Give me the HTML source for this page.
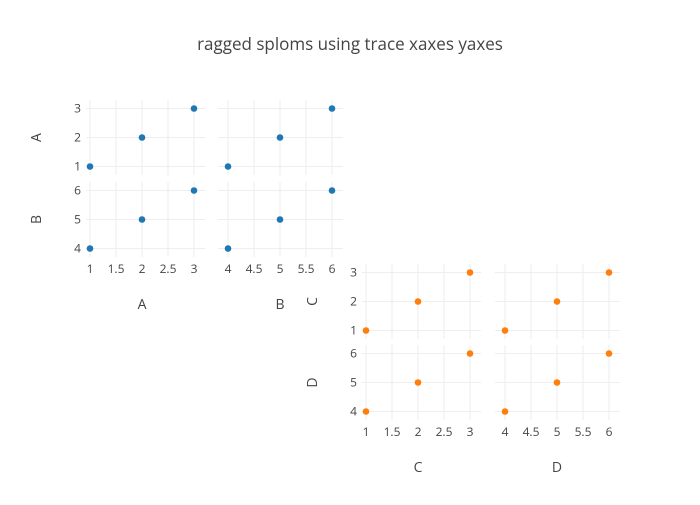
<!DOCTYPE html>
<html><head><meta charset="utf-8"><style>
body{margin:0;background:#fff;}
svg{font-family:"Open Sans","Liberation Sans",sans-serif;}
</style></head><body>
<svg id="c" width="700" height="500">
<text x="350" y="50" text-anchor="middle" font-size="17" fill="#444">ragged sploms using trace xaxes yaxes</text>
</svg>
<script>
const dimA=[1,2,3], dimB=[4,5,6], dimC=[1,2,3], dimD=[4,5,6];
const ticksAC=[1,1.5,2,2.5,3], ticksBD=[4,4.5,5,5.5,6];
const yTicksAC=[1,2,3], yTicksBD=[4,5,6];
const svg=document.getElementById('c'), NS='http://www.w3.org/2000/svg';
function el(t,a,p){const e=document.createElementNS(NS,t);for(const k in a)e.setAttribute(k,a[k]);(p||svg).appendChild(e);return e;}
function xScale(start,lo,hi){const u=104/(hi-lo);return v=>start+(v-lo)*u;}
function yScale(top,bottom,lo,hi){const u=58/(hi-lo);return v=>bottom-8.5-(v-lo)*u;}
function splom(dims,names,xt,yts,lefts,widths,starts,tops,color,prefix){
  const n=dims.length;
  const xs=[],ys=[];
  for(let i=0;i<n;i++){
    const lo=Math.min(...dims[i]),hi=Math.max(...dims[i]);
    xs.push(xScale(starts[i],lo,hi));
    ys.push(yScale(tops[i],tops[i]+75,lo,hi));
  }
  for(let r=0;r<n;r++)for(let c=0;c<n;c++){
    const g=el('g',{});
    
    
    const L=lefts[c],T=tops[r];
    xt[c].forEach(t=>{el('line',{x1:xs[c](t),x2:xs[c](t),y1:T,y2:T+75,stroke:'#eee','stroke-width':1},g);});
    yts[r].forEach(t=>{el('line',{x1:L,x2:L+widths[c],y1:ys[r](t),y2:ys[r](t),stroke:'#eee','stroke-width':1},g);});
    for(let k=0;k<dims[c].length;k++){
      const p=el('circle',{cx:xs[c](dims[c][k]),cy:ys[r](dims[r][k]),r:3.3,fill:color},g);
      
      
    }
  }
  for(let c=0;c<n;c++){
    xt[c].forEach(t=>{const e=el('text',{x:xs[c](t),y:tops[n-1]+75+16,'text-anchor':'middle','font-size':12,fill:'#444'});e.textContent=t;
      });
    const a=el('text',{x:xs[c]((Math.min(...dims[c])+Math.max(...dims[c]))/2),y:tops[n-1]+75+52,'text-anchor':'middle','font-size':14,fill:'#444'});a.textContent=names[c];
    
  }
  for(let r=0;r<n;r++){
    yts[r].forEach(t=>{const e=el('text',{x:lefts[0]-5,y:ys[r](t)+4,'text-anchor':'end','font-size':12,fill:'#444'});e.textContent=t;
      });
    const cy=tops[r]+37.5, cx=lefts[0]-50;
    const a=el('text',{x:cx,y:cy+5,'text-anchor':'middle','font-size':14,fill:'#444',transform:`rotate(-90 ${cx} ${cy})`});a.textContent=names[r];
    
  }
}
splom([dimA,dimB],['A','B'],[ticksAC,ticksBD],[yTicksAC,yTicksBD],[86,218],[119,125],[90,228],[100,182],'#1f77b4','splom-ab');
splom([dimC,dimD],['C','D'],[ticksAC,ticksBD],[yTicksAC,yTicksBD],[362,495],[119,125],[366,505],[264,345],'#ff7f0e','splom-cd');
</script>
</body></html>
